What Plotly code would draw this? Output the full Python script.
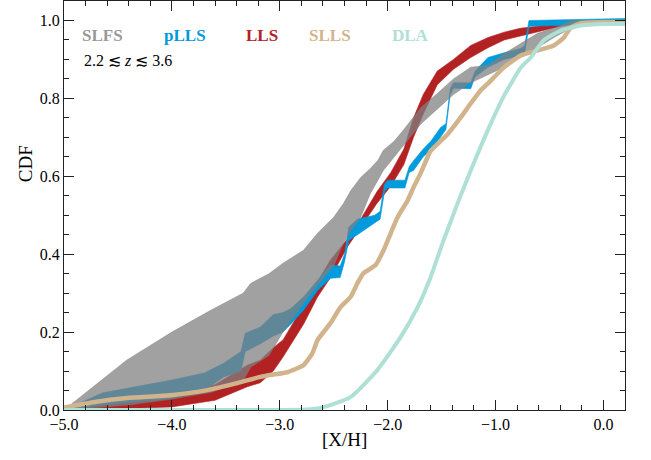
import plotly.graph_objects as go

# ---------------- data ----------------
# SLFS band (gray)
slfs_x  = [-5.0, -4.42, -4.0, -3.64, -3.34, -3.27, -3.1, -2.97, -2.78, -2.65, -2.5, -2.41, -2.34, -2.25,
           -2.16, -2.09, -2.04, -1.94, -1.85, -1.69, -1.55, -1.39, -1.23, -1.07, -0.92, -0.77, -0.61,
           -0.46, -0.3, -0.15, 0.2]
slfs_hi = [0.0, 0.128, 0.2, 0.256, 0.30, 0.325, 0.35, 0.377, 0.41, 0.454, 0.495, 0.53, 0.564, 0.597,
           0.62, 0.641, 0.667, 0.69, 0.72, 0.777, 0.81, 0.85, 0.88, 0.885, 0.915, 0.94, 0.967,
           0.98, 1.0, 1.0, 1.0]
slfs_lo = [0.0, 0.012, 0.028, 0.045, 0.075, 0.11, 0.14, 0.2, 0.274, 0.32, 0.37, 0.428, 0.46, 0.495,
           0.556, 0.59, 0.615, 0.65, 0.68, 0.735, 0.77, 0.81, 0.84, 0.86, 0.88, 0.91, 0.93,
           0.956, 0.98, 0.99, 0.995]

# pLLS band (blue)
plls_x  = [-5.0, -4.64, -4.0, -3.7, -3.52, -3.36, -3.32, -3.18, -3.06, -2.97, -2.9, -2.78, -2.65, -2.53,
           -2.44, -2.40, -2.36, -2.28, -2.12, -2.07, -2.03, -2.0, -1.84, -1.80, -1.76, -1.67, -1.6,
           -1.51, -1.46, -1.42, -1.39, -1.23, -1.19, -1.07, -0.92, -0.77, -0.73, -0.69, 0.2]
plls_lo = [0.0, 0.013, 0.03, 0.05, 0.085, 0.10, 0.15, 0.17, 0.19, 0.20, 0.22, 0.256, 0.307, 0.338,
           0.34, 0.38, 0.436, 0.45, 0.48, 0.49, 0.56, 0.57, 0.57, 0.61, 0.615, 0.65, 0.667,
           0.70, 0.72, 0.81, 0.826, 0.825, 0.855, 0.88, 0.90, 0.91, 0.915, 0.985, 0.993]
plls_hi = [0.0, 0.044, 0.077, 0.095, 0.12, 0.15, 0.197, 0.213, 0.245, 0.25, 0.26, 0.29, 0.333, 0.372,
           0.37, 0.40, 0.47, 0.49, 0.50, 0.51, 0.58, 0.59, 0.59, 0.625, 0.64, 0.67, 0.69,
           0.725, 0.735, 0.825, 0.84, 0.84, 0.87, 0.905, 0.917, 0.928, 0.935, 1.0, 1.005]

# LLS band (red)
lls_x  = [-5.0, -4.5, -4.0, -3.6, -3.3, -3.18, -3.06, -2.97, -2.78, -2.65, -2.53, -2.37, -2.25, -2.1,
          -1.97, -1.85, -1.76, -1.67, -1.54, -1.39, -1.23, -1.07, -0.92, -0.77, -0.61, -0.4, -0.25, 0.2]
lls_lo = [0.0, 0.003, 0.008, 0.025, 0.06, 0.07, 0.10, 0.136, 0.22, 0.29, 0.34, 0.42, 0.47, 0.53,
          0.575, 0.63, 0.70, 0.76, 0.835, 0.875, 0.905, 0.93, 0.95, 0.96, 0.97, 0.985, 0.995, 1.0]
lls_hi = [0.0, 0.02, 0.04, 0.065, 0.115, 0.128, 0.16, 0.18, 0.27, 0.33, 0.385, 0.44, 0.49, 0.56,
          0.61, 0.67, 0.75, 0.81, 0.87, 0.90, 0.936, 0.956, 0.97, 0.98, 0.985, 1.0, 1.0, 1.0]

# SLLS (tan, narrow band drawn as thick line)
slls_x = [-5.0, -4.73, -4.415, -4.016, -3.672, -3.394, -3.18, -3.087, -2.93, -2.781, -2.697, -2.651,
          -2.53, -2.437, -2.344, -2.279, -2.224, -2.112, -2.038, -1.973, -1.908, -1.815, -1.759,
          -1.694, -1.63, -1.602, -1.444, -1.323, -1.23, -1.137, -1.072, -0.924, -0.766, -0.608,
          -0.46, -0.367, -0.302, -0.209, 0.0, 0.2]
slls_y = [0.006, 0.02, 0.031, 0.038, 0.051, 0.069, 0.085, 0.090, 0.097, 0.115, 0.146, 0.179,
          0.223, 0.264, 0.290, 0.326, 0.351, 0.372, 0.410, 0.453, 0.495, 0.538, 0.572,
          0.608, 0.649, 0.665, 0.708, 0.751, 0.787, 0.821, 0.838, 0.879, 0.910, 0.923,
          0.936, 0.956, 0.982, 0.993, 0.996, 0.996]

# DLA (light teal)
dla_x = [-5.0, -3.0, -2.75, -2.623, -2.344, -2.094, -1.880, -1.722, -1.602, -1.481, -1.351, -1.230,
         -1.072, -0.924, -0.766, -0.673, -0.553, -0.395, -0.209, -0.004, 0.2]
dla_y = [0.0, 0.0, 0.001, 0.005, 0.033, 0.103, 0.187, 0.264, 0.341, 0.436, 0.531, 0.615,
         0.718, 0.805, 0.879, 0.905, 0.949, 0.974, 0.987, 0.991, 0.991]

labels = ["SLFS", "pLLS", "LLS", "SLLS", "DLA"]
label_x = [-4.647, -3.877, -3.162, -2.53, -1.787]
label_colors = ["#999999", "#0099DD", "#B22222", "#D2B48C", "#AFE0D6"]

# ---------------- figure ----------------
fig = go.Figure()


def band(x, lo, hi, color):
    return go.Scatter(x=list(x) + list(x)[::-1], y=list(hi) + list(lo)[::-1],
                      fill="toself", fillcolor=color, mode="lines",
                      line=dict(width=0.6, color=color), hoverinfo="skip", showlegend=False)


fig.add_trace(band(lls_x, lls_lo, lls_hi, "rgb(178,34,34)"))
fig.add_trace(band(plls_x, plls_lo, plls_hi, "rgb(0,155,220)"))
fig.add_trace(band(slfs_x, slfs_lo, slfs_hi, "rgba(128,128,128,0.74)"))
fig.add_trace(go.Scatter(x=slls_x, y=slls_y, mode="lines",
                         line=dict(color="#D2B48C", width=4.5, shape="spline", smoothing=0.5),
                         showlegend=False, hoverinfo="skip"))
fig.add_trace(go.Scatter(x=dla_x, y=dla_y, mode="lines",
                         line=dict(color="#AFE0D6", width=4, shape="spline", smoothing=0.5),
                         showlegend=False, hoverinfo="skip"))

for t, xx, c in zip(labels, label_x, label_colors):
    fig.add_annotation(x=xx, y=0.962, xref="x", yref="y", text="<b>%s</b>" % t,
                       showarrow=False, font=dict(family="Liberation Serif", size=17, color=c))
fig.add_annotation(x=-4.833, y=0.897, xref="x", yref="y", xanchor="left",
                   text="2.2 ≲ <i>z</i> ≲ 3.6", showarrow=False,
                   font=dict(family="Liberation Serif", size=16, color="black"))

# axis titles as annotations for exact placement
fig.add_annotation(x=0.5, y=-0.073, xref="paper", yref="paper", text="[X/H]",
                   showarrow=False, xanchor="center", yanchor="middle",
                   font=dict(family="Liberation Serif", size=19, color="black"))
fig.add_annotation(x=-0.0695, y=0.601, xref="paper", yref="paper", text="CDF",
                   showarrow=False, textangle=-90, xanchor="center", yanchor="middle",
                   font=dict(family="Liberation Serif", size=19, color="black"))

axis_common = dict(
    showgrid=False, zeroline=False, showline=True, linecolor="#222", linewidth=1.2,
    mirror="ticks", ticks="inside", ticklen=10, tickwidth=1.2, tickcolor="#222",
    tickfont=dict(family="Liberation Serif", size=16, color="black"),
    tickformat=".1f", automargin=False,
)

fig.update_xaxes(range=[-5.0, 0.2], dtick=1.0, tick0=0,
                 minor=dict(dtick=0.2, ticks="inside", ticklen=5, tickwidth=1, tickcolor="#222"),
                 **axis_common)
fig.update_yaxes(range=[0.0, 1.05], dtick=0.2, tick0=0,
                 minor=dict(dtick=0.05, ticks="inside", ticklen=5, tickwidth=1, tickcolor="#222"),
                 **axis_common)

fig.update_layout(width=651, height=460, margin=dict(l=64, r=26, t=1, b=50),
                  plot_bgcolor="white", paper_bgcolor="white", showlegend=False)

fig.write_html("out.html", config={"displayModeBar": False},
               post_script="document.body.style.margin='0';document.body.style.overflow='hidden';")
